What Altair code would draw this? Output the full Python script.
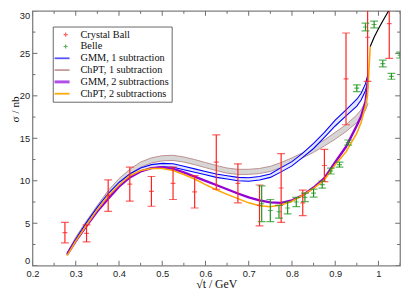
import altair as alt
import pandas as pd

# ---------------- data ----------------
cb_x = [0.275, 0.325, 0.375, 0.425, 0.475, 0.525, 0.575, 0.625, 0.675, 0.725, 0.775, 0.825, 0.875, 0.925, 0.975, 1.025]
cb_y = [3.9, 3.8, 8.25, 9.6, 8.75, 9.7, 8.7, 12.2, 9.7, 7.1, 9.15, 7.4, 11.8, 22.0, 26.9, 28.5]
cb_err = [1.2, 1.0, 1.85, 2.0, 1.75, 1.9, 1.9, 3.2, 2.3, 2.4, 4.05, 1.5, 1.9, 5.4, 5.2, 4.1]

belle_x = [0.73, 0.75, 0.77, 0.79, 0.81, 0.83, 0.85, 0.87, 0.89, 0.91, 0.93, 0.95, 0.97, 0.99, 1.01, 1.03, 1.05]
belle_y = [7.3, 6.5, 6.35, 6.8, 7.5, 8.05, 8.55, 9.55, 11.15, 11.9, 14.5, 20.9, 28.1, 28.4, 23.8, 22.3, 24.8]
belle_err = [2.1, 1.3, 0.75, 0.7, 0.55, 0.5, 0.47, 0.42, 0.35, 0.3, 0.3, 0.4, 0.45, 0.4, 0.4, 0.35, 0.35]

curve_x = [0.28, 0.30, 0.325, 0.35, 0.375, 0.40, 0.425, 0.45, 0.475, 0.50, 0.525, 0.55, 0.575, 0.60,
           0.625, 0.65, 0.675, 0.70, 0.725, 0.75, 0.775, 0.80, 0.825, 0.85, 0.875, 0.90, 0.925, 0.95,
           0.96, 0.97, 0.976]
gmm1_lo = [1.3, 2.85, 4.7, 6.5, 8.1, 9.4, 10.4, 11.1, 11.5, 11.65, 11.6, 11.3, 11.0, 10.7, 10.4, 10.2,
           10.0, 9.95, 10.1, 10.4, 11.05, 11.75, 12.75, 13.8, 15.1, 16.45, 17.65, 18.8, 19.5, 20.6, 21.8]
gmm1_hi = [1.5, 3.15, 5.1, 6.9, 8.5, 9.8, 10.8, 11.5, 11.9, 12.05, 12.0, 11.7, 11.4, 11.1, 10.8, 10.6,
           10.4, 10.35, 10.5, 10.8, 11.55, 12.25, 13.25, 14.4, 15.7, 17.15, 18.35, 19.6, 20.3, 21.4, 22.6]
chpt1_lo = [1.3, 3.05, 4.9, 6.7, 8.35, 9.75, 10.85, 11.6, 12.1, 12.35, 12.4, 12.2, 11.9, 11.55, 11.2, 10.9,
            10.75, 10.75, 10.85, 11.1, 11.55, 12.1, 12.7, 13.35, 14.1, 14.9, 15.8, 16.85, 17.45, 18.3, 19.1]
chpt1_hi = [1.5, 3.35, 5.3, 7.1, 8.85, 10.25, 11.35, 12.2, 12.7, 12.95, 13.0, 12.8, 12.5, 12.15, 11.8, 11.5,
            11.35, 11.35, 11.45, 11.7, 12.15, 12.7, 13.3, 14.05, 14.8, 15.7, 16.6, 17.75, 18.35, 19.3, 20.1]
gmm2_y = [1.3, 2.9, 4.7, 6.4, 7.9, 9.3, 10.4, 11.1, 11.5, 11.6, 11.4, 11.0, 10.5, 10.0, 9.5, 9.0,
          8.5, 8.05, 7.7, 7.45, 7.4, 7.7, 8.3, 9.2, 10.3, 12.2, 14.0, 16.5, 17.6, 19.3, 21.8]
chpt2_x = curve_x[:-1] + [0.975, 0.978, 0.981]
chpt2_y = [1.2, 2.9, 4.8, 6.6, 8.2, 9.5, 10.6, 11.2, 11.45, 11.45, 11.2, 10.75, 10.2, 9.55, 8.95, 8.4,
           7.9, 7.4, 7.05, 6.95, 7.15, 7.6, 8.3, 9.1, 10.1, 11.9, 13.4, 15.6, 16.9, 18.8, 20.3, 23.0, 25.8]
black_x = [0.981, 0.99, 1.0, 1.01, 1.02, 1.03]
black_y = [25.8, 26.9, 27.9, 28.8, 29.7, 30.5]

legend_labels = ["Crystal Ball", "Belle", "GMM, 1 subtraction", "ChPT, 1 subtraction",
                 "GMM, 2 subtractions", "ChPT, 2 subtractions"]
legend_colors = ["#ff2020", "#1e951e", "#5555ff", "#c49a9a", "#b04ee6", "#ffaa00"]
legend_widths = [0, 0, 1.8, 1.8, 3.0, 1.8]

x_major = [0.2, 0.3, 0.4, 0.5, 0.6, 0.7, 0.8, 0.9, 1.0]
x_minor = [0.25, 0.35, 0.45, 0.55, 0.65, 0.75, 0.85, 0.95, 1.05]
y_major = [0, 5, 10, 15, 20, 25, 30]
y_minor = [2.5, 7.5, 12.5, 17.5, 22.5, 27.5]

# ---------------- chart ----------------
W, H = 375, 260
xs = alt.Scale(domain=[0.2, 1.05], nice=False, zero=False)
ys = alt.Scale(domain=[0, 30], nice=False, zero=False)

x_axis = alt.Axis(values=x_major, format=".1~f", title="√t / GeV", ticks=False, tickSize=0,
                  domain=False, grid=False, labelFlush=False, labelPadding=3,
                  labelFont="Liberation Sans", labelFontSize=9.5, labelColor="#222",
                  titleFont="Liberation Serif", titleFontSize=12, titleFontWeight="normal",
                  titleColor="#111", titlePadding=1)
y_axis = alt.Axis(values=y_major, title="σ / nb", ticks=False, tickSize=0, domain=False, grid=False,
                  labelFlush=True, labelPadding=3, labelFont="Liberation Sans", labelFontSize=9.5,
                  labelColor="#222", titleFont="Liberation Serif", titleFontSize=11.5,
                  titleFontWeight="normal", titleColor="#111", titleX=-12, titleY=100,
                  titleAlign="center", titleBaseline="bottom", titleAngle=-90)


def X(field, **kw):
    return alt.X(field, type="quantitative", scale=xs, axis=x_axis, **kw)


def Y(field, **kw):
    return alt.Y(field, type="quantitative", scale=ys, axis=y_axis, **kw)


curves = pd.DataFrame({"x": curve_x, "g1lo": gmm1_lo, "g1hi": gmm1_hi,
                       "c1lo": chpt1_lo, "c1hi": chpt1_hi, "g2": gmm2_y})
c2 = pd.DataFrame({"x": chpt2_x, "y": chpt2_y})
bl = pd.DataFrame({"x": black_x, "y": black_y})
cb = pd.DataFrame({"x": cb_x, "y": cb_y, "e": cb_err})
be = pd.DataFrame({"x": belle_x, "y": belle_y, "e": belle_err})

base = alt.Chart(curves)
gray_band = base.mark_area(color="#d6d6d6", clip=True).encode(X("x"), Y("c1lo"), y2="c1hi")
gray_lo = base.mark_line(color="#bc8f8f", strokeWidth=1, clip=True).encode(X("x"), Y("c1lo"))
gray_hi = base.mark_line(color="#bc8f8f", strokeWidth=1, clip=True).encode(X("x"), Y("c1hi"))
blue_band = base.mark_area(color="#e4e6ff", clip=True).encode(X("x"), Y("g1lo"), y2="g1hi")
blue_lo = base.mark_line(color="#0000ff", strokeWidth=1.1, clip=True).encode(X("x"), Y("g1lo"))
blue_hi = base.mark_line(color="#0000ff", strokeWidth=1.1, clip=True).encode(X("x"), Y("g1hi"))
purple = base.mark_line(color="#9400d3", strokeWidth=2.4, clip=True).encode(X("x"), Y("g2"))
orange = alt.Chart(c2).mark_line(color="#ffa500", strokeWidth=1.6, clip=True).encode(X("x"), Y("y"))
black = alt.Chart(bl).mark_line(color="#000000", strokeWidth=1.2, clip=True).encode(X("x"), Y("y"))


def errorbars(df, color):
    c = alt.Chart(df).transform_calculate(lo="datum.y - datum.e", hi="datum.y + datum.e")
    rule = c.mark_rule(color=color, strokeWidth=1.2, clip=True).encode(X("x"), Y("lo:Q"), y2="hi:Q")
    cap_lo = c.mark_tick(color=color, orient="horizontal", size=8, thickness=1.2, clip=True).encode(X("x"), Y("lo:Q"))
    cap_hi = c.mark_tick(color=color, orient="horizontal", size=8, thickness=1.2, clip=True).encode(X("x"), Y("hi:Q"))
    mid = c.mark_tick(color=color, orient="horizontal", size=5, thickness=1.2, clip=True).encode(X("x"), Y("y:Q"))
    return [rule, cap_lo, cap_hi, mid]


# frame ticks (inward)
tx_maj = alt.Chart(pd.DataFrame({"v": x_major}))
tx_min = alt.Chart(pd.DataFrame({"v": x_minor}))
ty_maj = alt.Chart(pd.DataFrame({"v": y_major}))
ty_min = alt.Chart(pd.DataFrame({"v": y_minor}))
tick_col = "#6a6a6a"
ticks = [
    tx_maj.mark_rule(color=tick_col, clip=True).encode(X("v"), y=alt.value(H), y2=alt.value(H - 5)),
    tx_maj.mark_rule(color=tick_col, clip=True).encode(X("v"), y=alt.value(0), y2=alt.value(5)),
    tx_min.mark_rule(color=tick_col, clip=True).encode(X("v"), y=alt.value(H), y2=alt.value(H - 3)),
    tx_min.mark_rule(color=tick_col, clip=True).encode(X("v"), y=alt.value(0), y2=alt.value(3)),
    ty_maj.mark_rule(color=tick_col, clip=True).encode(Y("v"), x=alt.value(0), x2=alt.value(5)),
    ty_maj.mark_rule(color=tick_col, clip=True).encode(Y("v"), x=alt.value(W), x2=alt.value(W - 5)),
    ty_min.mark_rule(color=tick_col, clip=True).encode(Y("v"), x=alt.value(0), x2=alt.value(3)),
    ty_min.mark_rule(color=tick_col, clip=True).encode(Y("v"), x=alt.value(W), x2=alt.value(W - 3)),
]

# legend
leg = alt.Chart(pd.DataFrame({"label": legend_labels, "col": legend_colors,
                              "w": legend_widths, "row": list(range(6))})).transform_calculate(
    ly="27.2 - 1.39 * datum.row")
leg_box = alt.Chart(pd.DataFrame({"a": [0]})).mark_rect(fill="white", stroke="#555555", strokeWidth=0.9).encode(
    x=alt.datum(0.248, scale=xs), x2=alt.datum(0.523), y=alt.datum(19.25, scale=ys), y2=alt.datum(28.1))
leg_text = leg.mark_text(align="left", baseline="middle", font="Liberation Serif", fontSize=10.5,
                         color="#111").encode(x=alt.datum(0.311), y=Y("ly:Q"), text="label:N")
leg_lines = leg.transform_filter("datum.row >= 2").mark_rule().encode(
    x=alt.datum(0.251), x2=alt.datum(0.2857), y=Y("ly:Q"),
    color=alt.Color("col:N", scale=None), strokeWidth=alt.StrokeWidth("w:Q", scale=None))
leg_pts = leg.transform_filter("datum.row < 2").mark_point(
    shape="M-1,0L1,0M0,-1L0,1", filled=False, size=18, strokeWidth=1.2).encode(
    x=alt.datum(0.2766), y=Y("ly:Q"), color=alt.Color("col:N", scale=None))

layers = [gray_band, gray_lo, gray_hi, blue_band, blue_lo, blue_hi, purple, orange, black]
layers += errorbars(cb, "#ff2020")
layers += errorbars(be, "#1e951e")
layers += ticks
layers += [leg_box, leg_lines, leg_pts, leg_text]

chart = alt.layer(*layers).properties(
    width=W, height=H,
    autosize=alt.AutoSizeParams(type="none"),
    padding={"left": 25, "top": 0, "right": 3, "bottom": 31},
).configure_view(stroke="#808080", strokeWidth=1.3)

chart.save("out.html", embed_options={"renderer": "svg", "actions": False})
